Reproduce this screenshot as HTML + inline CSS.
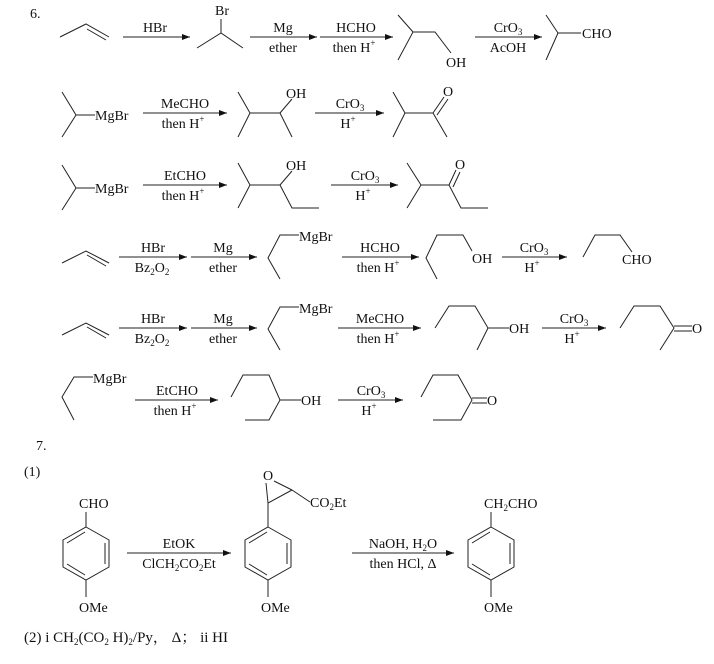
<!DOCTYPE html>
<html><head><meta charset="utf-8"><style>
html,body{margin:0;padding:0;background:#fff;}
svg{display:block;}
text{font-family:"Liberation Serif","Noto Serif CJK SC",serif;font-size:14px;fill:#111;}
.s{font-size:9px;}
</style></head><body>
<svg width="714" height="664" viewBox="0 0 714 664" xmlns="http://www.w3.org/2000/svg">
<defs><marker id="a" markerWidth="8" markerHeight="6" refX="8" refY="3" orient="auto" markerUnits="userSpaceOnUse"><path d="M0,0 L8,3 L0,6 Z" fill="#111"/></marker></defs>
<g stroke="#222" stroke-width="1" fill="none">
<!-- row1 -->
<path d="M60,37 L86,24 L109,37 M87,29 L106,40"/>
<line x1="123" y1="37" x2="190" y2="37" marker-end="url(#a)"/>
<path d="M197,48 L221,33 L243,48 M221,33 L221,19"/>
<line x1="250" y1="37" x2="317" y2="37" marker-end="url(#a)"/>
<line x1="320" y1="37" x2="393" y2="37" marker-end="url(#a)"/>
<path d="M398,15 L413,32 L398,60 M413,32 L435,32 L451,53"/>
<line x1="475" y1="37" x2="542" y2="37" marker-end="url(#a)"/>
<path d="M546,15 L558,33 L546,60 M558,33 L581,33"/>
<!-- row2 -->
<path d="M62,92 L76,115 L62,137 M76,115 L95,115"/>
<line x1="143" y1="113" x2="227" y2="113" marker-end="url(#a)"/>
<path d="M238,92 L250,113 L238,137 M250,113 L280,113 L292,137 M280,113 L292,99"/>
<line x1="315" y1="113" x2="384" y2="113" marker-end="url(#a)"/>
<path d="M393,92 L405,113 L393,137 M405,113 L433,113 L447,137 M433,113 L444,97 M437,115 L448,99"/>
<!-- row3 -->
<path d="M62,165 L76,188 L62,210 M76,188 L95,188"/>
<line x1="143" y1="185" x2="227" y2="185" marker-end="url(#a)"/>
<path d="M238,163 L250,185 L238,208 M250,185 L280,185 L292,208 L319,208 M280,185 L292,171"/>
<line x1="331" y1="185" x2="398" y2="185" marker-end="url(#a)"/>
<path d="M407,163 L421,185 L407,208 M421,185 L449,185 L461,208 L488,208 M449,185 L456,170 M453,187 L460,172"/>
<!-- row4 -->
<path d="M62,263 L86,251 L109,263 M87,255 L106,266"/>
<line x1="119" y1="257" x2="187" y2="257" marker-end="url(#a)"/>
<line x1="191" y1="257" x2="257" y2="257" marker-end="url(#a)"/>
<path d="M280,279 L268,258 L280,235 L299,235"/>
<line x1="342" y1="257" x2="419" y2="257" marker-end="url(#a)"/>
<path d="M437,279 L426,258 L437,235 L463,235 L472,251"/>
<line x1="502" y1="257" x2="567" y2="257" marker-end="url(#a)"/>
<path d="M583,257 L595,235 L620,235 L632,252"/>
<!-- row5 -->
<path d="M62,335 L86,323 L109,335 M87,327 L106,338"/>
<line x1="119" y1="328" x2="187" y2="328" marker-end="url(#a)"/>
<line x1="191" y1="328" x2="257" y2="328" marker-end="url(#a)"/>
<path d="M280,350 L268,329 L280,307 L299,307"/>
<line x1="338" y1="328" x2="421" y2="328" marker-end="url(#a)"/>
<path d="M435,328 L449,306 L475,306 L488,328 L477,350 M488,328 L509,328"/>
<line x1="542" y1="328" x2="606" y2="328" marker-end="url(#a)"/>
<path d="M620,328 L634,306 L660,306 L674,328 L660,350 M674,326 L692,326 M674,331 L692,331"/>
<!-- row6 -->
<path d="M74,420 L62,397 L74,377 L93,377"/>
<line x1="135" y1="400" x2="218" y2="400" marker-end="url(#a)"/>
<path d="M231,397 L243,375 L269,375 L280,400 L269,420 L245,420 M280,400 L301,400"/>
<line x1="338" y1="400" x2="403" y2="400" marker-end="url(#a)"/>
<path d="M421,397 L433,375 L458,375 L472,400 L461,420 L433,420 M472,398 L487,398 M472,403 L487,403"/>
<!-- 7 -->
<line x1="127" y1="553" x2="231" y2="553" marker-end="url(#a)"/>
<line x1="352" y1="553" x2="454" y2="553" marker-end="url(#a)"/>
<path d="M268,512 L268,503 L292,490 M268,503 L266,483 M292,490 L274,481 M292,490 L310,502"/>
</g>
<g stroke="#222" stroke-width="1" fill="none">
<path id="r1" d="M86,527 L109,540 L109,567 L86,580 L63,567 L63,540 Z M86,527 L86,512 M86,580 L86,597 M105,543 L105,564 M67,543 L85,532 M67,564 L85,575"/>
<use href="#r1" x="182"/>
<use href="#r1" x="405"/>
</g>
<text x="30" y="18">6.</text>
<text x="155" y="32" text-anchor="middle">HBr</text>
<text x="222" y="15" text-anchor="middle">Br</text>
<text x="283" y="32" text-anchor="middle">Mg</text>
<text x="283" y="52" text-anchor="middle">ether</text>
<text x="356" y="32" text-anchor="middle">HCHO</text>
<text x="354" y="52" text-anchor="middle">then H<tspan class="s" dy="-6">+</tspan></text>
<text x="446" y="67">OH</text>
<text x="508" y="32" text-anchor="middle">CrO<tspan class="s" dy="3">3</tspan></text>
<text x="508" y="52" text-anchor="middle">AcOH</text>
<text x="582" y="38">CHO</text>

<text x="95" y="120">MgBr</text>
<text x="185" y="108" text-anchor="middle">MeCHO</text>
<text x="183" y="128" text-anchor="middle">then H<tspan class="s" dy="-6">+</tspan></text>
<text x="286" y="98">OH</text>
<text x="350" y="108" text-anchor="middle">CrO<tspan class="s" dy="3">3</tspan></text>
<text x="348" y="128" text-anchor="middle">H<tspan class="s" dy="-6">+</tspan></text>
<text x="443" y="96">O</text>

<text x="95" y="193">MgBr</text>
<text x="185" y="180" text-anchor="middle">EtCHO</text>
<text x="183" y="200" text-anchor="middle">then H<tspan class="s" dy="-6">+</tspan></text>
<text x="286" y="170">OH</text>
<text x="365" y="180" text-anchor="middle">CrO<tspan class="s" dy="3">3</tspan></text>
<text x="363" y="200" text-anchor="middle">H<tspan class="s" dy="-6">+</tspan></text>
<text x="455" y="169">O</text>

<text x="153" y="252" text-anchor="middle">HBr</text>
<text x="152" y="272" text-anchor="middle">Bz<tspan class="s" dy="3">2</tspan><tspan dy="-3">O</tspan><tspan class="s" dy="3">2</tspan></text>
<text x="223" y="252" text-anchor="middle">Mg</text>
<text x="223" y="272" text-anchor="middle">ether</text>
<text x="299" y="241">MgBr</text>
<text x="380" y="252" text-anchor="middle">HCHO</text>
<text x="378" y="272" text-anchor="middle">then H<tspan class="s" dy="-6">+</tspan></text>
<text x="472" y="263">OH</text>
<text x="534" y="252" text-anchor="middle">CrO<tspan class="s" dy="3">3</tspan></text>
<text x="532" y="272" text-anchor="middle">H<tspan class="s" dy="-6">+</tspan></text>
<text x="622" y="264">CHO</text>

<text x="153" y="323" text-anchor="middle">HBr</text>
<text x="152" y="343" text-anchor="middle">Bz<tspan class="s" dy="3">2</tspan><tspan dy="-3">O</tspan><tspan class="s" dy="3">2</tspan></text>
<text x="223" y="323" text-anchor="middle">Mg</text>
<text x="223" y="343" text-anchor="middle">ether</text>
<text x="299" y="313">MgBr</text>
<text x="380" y="323" text-anchor="middle">MeCHO</text>
<text x="378" y="343" text-anchor="middle">then H<tspan class="s" dy="-6">+</tspan></text>
<text x="509" y="333">OH</text>
<text x="574" y="323" text-anchor="middle">CrO<tspan class="s" dy="3">3</tspan></text>
<text x="572" y="343" text-anchor="middle">H<tspan class="s" dy="-6">+</tspan></text>
<text x="692" y="333">O</text>

<text x="93" y="383">MgBr</text>
<text x="177" y="395" text-anchor="middle">EtCHO</text>
<text x="175" y="415" text-anchor="middle">then H<tspan class="s" dy="-6">+</tspan></text>
<text x="301" y="405">OH</text>
<text x="371" y="395" text-anchor="middle">CrO<tspan class="s" dy="3">3</tspan></text>
<text x="369" y="415" text-anchor="middle">H<tspan class="s" dy="-6">+</tspan></text>
<text x="487" y="405">O</text>

<text x="36" y="450">7.</text>
<text x="24" y="476">(1)</text>
<text x="79" y="508">CHO</text>
<text x="79" y="612">OMe</text>
<text x="179" y="548" text-anchor="middle">EtOK</text>
<text x="179" y="568" text-anchor="middle">ClCH<tspan class="s" dy="3">2</tspan><tspan dy="-3">CO</tspan><tspan class="s" dy="3">2</tspan><tspan dy="-3">Et</tspan></text>
<text x="263" y="480">O</text>
<text x="310" y="507">CO<tspan class="s" dy="3">2</tspan><tspan dy="-3">Et</tspan></text>
<text x="261" y="612">OMe</text>
<text x="403" y="548" text-anchor="middle">NaOH, H<tspan class="s" dy="3">2</tspan><tspan dy="-3">O</tspan></text>
<text x="403" y="568" text-anchor="middle">then HCl, Δ</text>
<text x="484" y="508">CH<tspan class="s" dy="3">2</tspan><tspan dy="-3">CHO</tspan></text>
<text x="484" y="612">OMe</text>
<text x="24" y="642" style="font-size:15px">(2) i CH<tspan class="s" dy="3">2</tspan><tspan dy="-3">(CO</tspan><tspan class="s" dy="3">2</tspan><tspan dy="-3"> H)</tspan><tspan class="s" dy="3">2</tspan><tspan dy="-3">/Py， Δ； ii HI</tspan></text>
</svg>
</body></html>
